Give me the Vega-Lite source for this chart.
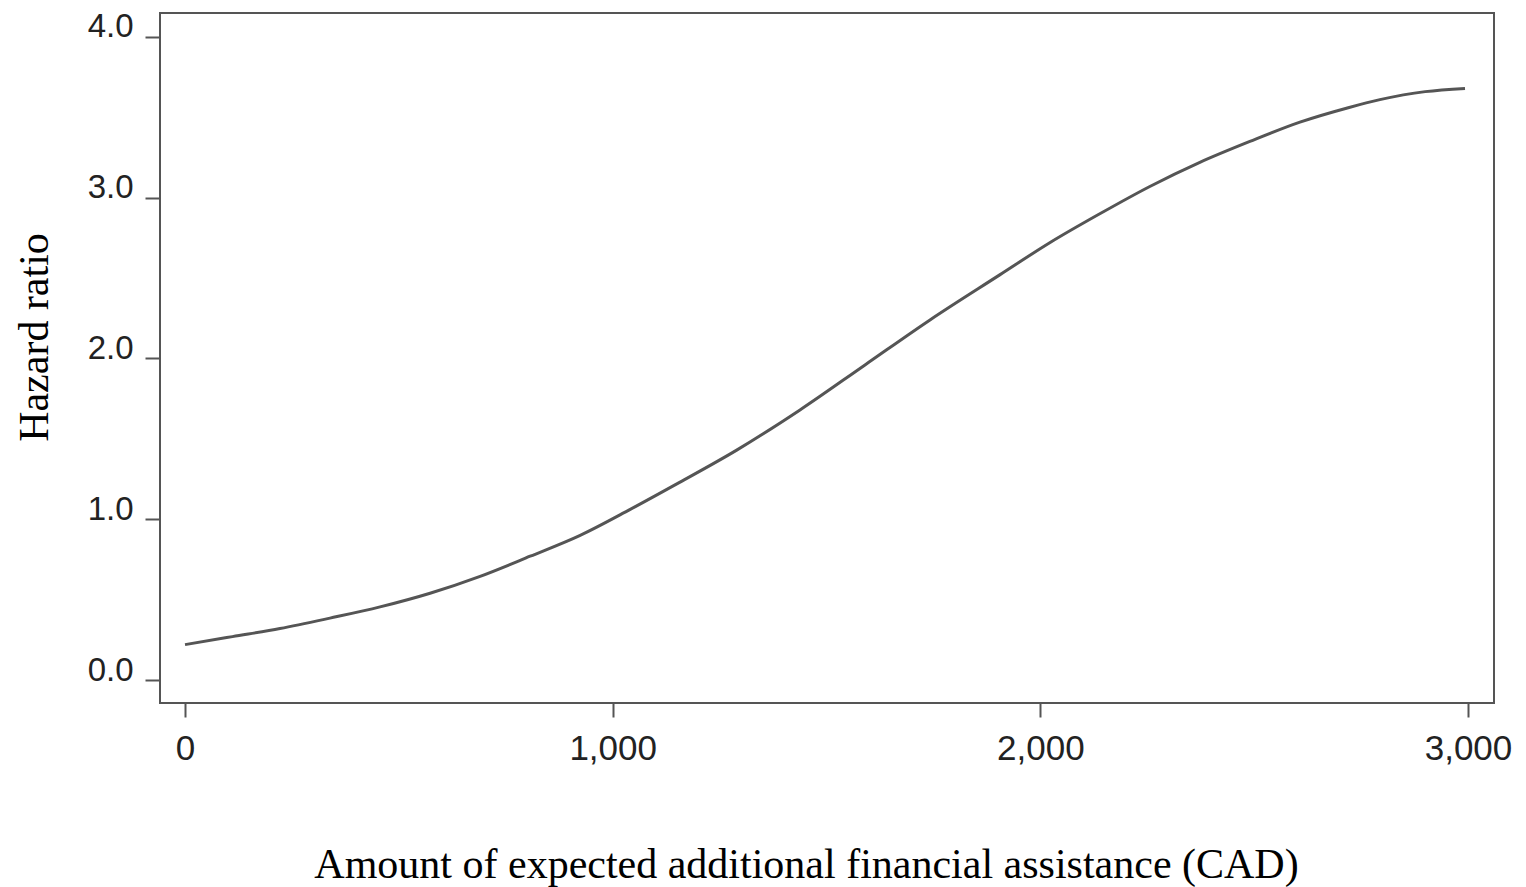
{
  "$schema": "https://vega.github.io/schema/vega-lite/v6.json",
  "width": 1334,
  "height": 690,
  "autosize": {"type": "none"},
  "padding": {"left": 160, "top": 13, "right": 32, "bottom": 184},
  "background": "white",
  "config": {
    "view": {"stroke": "#555555", "strokeWidth": 2},
    "axis": {"grid": false, "domain": false, "tickColor": "#555555", "tickWidth": 2, "labelColor": "#222222", "labelFont": "Liberation Sans", "titleFont": "Liberation Serif", "titleFontWeight": "normal", "titleColor": "#000000", "titleFontSize": 42}
  },
  "data": {"values": [
    {"amount": 0, "hr": 0.22},
    {"amount": 111, "hr": 0.27},
    {"amount": 222, "hr": 0.32},
    {"amount": 339, "hr": 0.385},
    {"amount": 456, "hr": 0.455},
    {"amount": 573, "hr": 0.54},
    {"amount": 690, "hr": 0.645},
    {"amount": 807, "hr": 0.77},
    {"amount": 924, "hr": 0.9},
    {"amount": 1040, "hr": 1.06},
    {"amount": 1150, "hr": 1.22},
    {"amount": 1290, "hr": 1.43},
    {"amount": 1438, "hr": 1.68},
    {"amount": 1590, "hr": 1.96},
    {"amount": 1742, "hr": 2.24},
    {"amount": 1905, "hr": 2.52},
    {"amount": 2022, "hr": 2.72},
    {"amount": 2139, "hr": 2.9},
    {"amount": 2256, "hr": 3.07},
    {"amount": 2373, "hr": 3.22},
    {"amount": 2490, "hr": 3.35},
    {"amount": 2607, "hr": 3.47},
    {"amount": 2720, "hr": 3.56},
    {"amount": 2794, "hr": 3.61},
    {"amount": 2900, "hr": 3.66},
    {"amount": 2993, "hr": 3.68}
  ]},
  "mark": {"type": "line", "color": "#555555", "strokeWidth": 3, "interpolate": "monotone"},
  "encoding": {
    "x": {
      "field": "amount", "type": "quantitative",
      "scale": {"domain": [-58.5, 3060.8], "nice": false, "zero": false},
      "axis": {
        "values": [0, 1000, 2000, 3000], "format": ",d",
        "tickSize": 14, "labelFontSize": 35, "labelPadding": 14, "labelFlush": false,
        "title": "Amount of expected additional financial assistance (CAD)",
        "titleX": 646, "titleY": 174, "titleBaseline": "alphabetic", "titleAnchor": null, "titleAlign": "center"
      }
    },
    "y": {
      "field": "hr", "type": "quantitative",
      "scale": {"domain": [-0.143, 4.149], "nice": false, "zero": false},
      "axis": {
        "values": [0, 1, 2, 3, 4], "format": ".1f",
        "tickSize": 15, "labelFontSize": 33, "labelPadding": 12, "labelBaseline": "alphabetic", "labelFlush": false,
        "title": "Hazard ratio",
        "titleX": -113, "titleY": 324, "titleAngle": -90, "titleBaseline": "alphabetic", "titleAlign": "center", "titleAnchor": null
      }
    }
  }
}
